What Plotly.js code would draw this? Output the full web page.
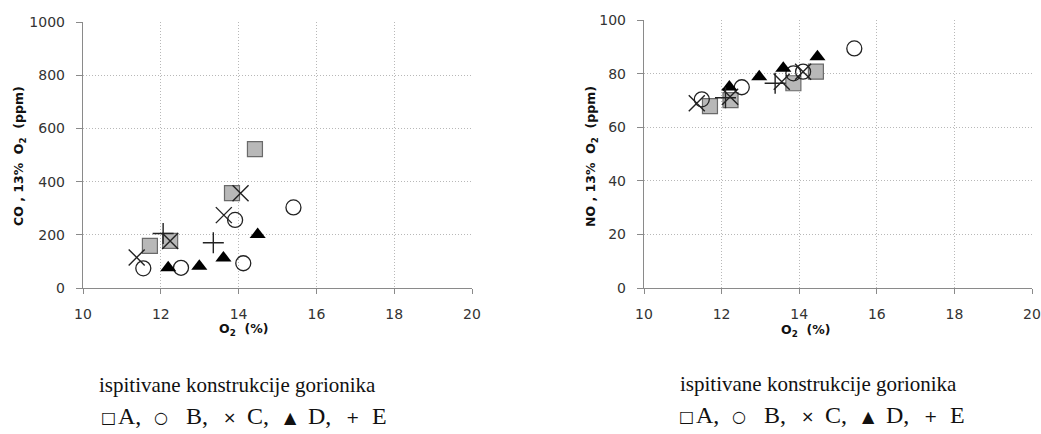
<!DOCTYPE html>
<html>
<head>
<meta charset="utf-8">
<script src="https://cdn.plot.ly/plotly-3.0.1.min.js"></script>
<style>html,body{margin:0;padding:0;background:#fff;}#chart{width:1041px;height:434px;}</style>
</head>
<body>
<div id="chart"></div>
<script>
// ---- Data (O2 %, CO ppm) ----
const coA_x = [11.72, 12.24, 13.83, 14.42];
const coA_y = [158, 177, 357, 522];
const coB_x = [11.55, 12.52, 13.91, 14.12, 15.41];
const coB_y = [74, 76, 256, 93, 303];
const coC_x = [11.38, 12.24, 13.62, 14.05];
const coC_y = [115, 177, 274, 356];
const coD_x = [12.19, 12.99, 13.61, 14.49];
const coD_y = [76, 82, 113, 201];
const coE_x = [12.06, 13.35];
const coE_y = [205, 170];

// ---- Data (O2 %, NO ppm) ----
const noA_x = [11.70, 12.23, 13.85, 14.43];
const noA_y = [67.9, 70.1, 76.4, 80.7];
const noB_x = [11.49, 12.52, 13.85, 14.10, 15.42];
const noB_y = [70.4, 74.9, 80.1, 80.7, 89.4];
const noC_x = [11.36, 12.22, 13.55, 14.10];
const noC_y = [68.9, 71.4, 77.0, 80.7];
const noD_x = [12.20, 12.97, 13.59, 14.47];
const noD_y = [75.0, 78.8, 82.0, 86.3];
const noE_x = [12.10, 13.38];
const noE_y = [71.0, 76.4];

const xTicks = [10, 12, 14, 16, 18, 20];
const coTicks = [0, 200, 400, 600, 800, 1000];
const noTicks = [0, 20, 40, 60, 80, 100];

// legend caption pieces
const captionTitle = 'ispitivane konstrukcije gorionika';
const captionSymbols = ['□', '○', '×', '▲', '+'];
const captionLabels = ['A,', 'B,', 'C,', 'D,', 'E'];

const W = 1041, H = 434;
const px = v => v / W;
const py = v => (H - v) / H;

const styles = {
  A: {symbol: 'square', size: 15, color: '#b8b8b8', line: {color: '#6a6a6a', width: 1.2}},
  B: {symbol: 'circle', size: 15, color: 'rgba(255,255,255,0)', line: {color: '#222', width: 1.3}},
  C: {symbol: 'x-thin-open', size: 16, color: '#222', line: {color: '#222', width: 1.4}},
  D: {symbol: 'triangle-up', size: 14, color: '#000', line: {color: '#000', width: 0}},
  E: {symbol: 'cross-thin-open', size: 15, color: '#222', line: {color: '#222', width: 1.4}}
};

function tr(x, y, key, xa, ya) {
  return {x: x, y: y, type: 'scatter', mode: 'markers', xaxis: xa, yaxis: ya,
          marker: styles[key], showlegend: false, hoverinfo: 'skip'};
}

const data = [
  tr(coA_x, coA_y, 'A', 'x', 'y'),
  tr(coB_x, coB_y, 'B', 'x', 'y'),
  tr(coC_x, coC_y, 'C', 'x', 'y'),
  tr(coD_x, coD_y, 'D', 'x', 'y'),
  tr(coE_x, coE_y, 'E', 'x', 'y'),
  tr(noA_x, noA_y, 'A', 'x2', 'y2'),
  tr(noB_x, noB_y, 'B', 'x2', 'y2'),
  tr(noC_x, noC_y, 'C', 'x2', 'y2'),
  tr(noD_x, noD_y, 'D', 'x2', 'y2'),
  tr(noE_x, noE_y, 'E', 'x2', 'y2')
];

const tickFont = {family: 'DejaVu Sans, sans-serif', size: 14, color: '#333'};
function xax(domain) {
  return {domain: domain, range: [10, 20], tickvals: xTicks, ticktext: xTicks.map(String),
          showgrid: true, gridcolor: '#b8b8b8', griddash: '1px,2px', gridwidth: 1,
          showline: true, linecolor: '#8a8a8a', linewidth: 1.2, zeroline: false,
          ticks: 'outside', ticklen: 5, tickcolor: '#8a8a8a', tickfont: tickFont,
          ticklabelstandoff: 8, fixedrange: true};
}
function yax(domain, anchor, range, ticks) {
  return {domain: domain, anchor: anchor, range: range, tickvals: ticks, ticktext: ticks.map(String),
          showgrid: true, gridcolor: '#b8b8b8', griddash: '1px,2px', gridwidth: 1,
          showline: true, linecolor: '#8a8a8a', linewidth: 1.2, zeroline: false,
          ticks: 'outside', ticklen: 6, tickcolor: '#8a8a8a', tickfont: tickFont,
          ticklabelstandoff: 8, fixedrange: true};
}

const titleFont = {family: 'DejaVu Sans, sans-serif', size: 12.5, color: '#111'};
const serif = {family: 'Liberation Serif, Times New Roman, serif', size: 21, color: '#111'};
const serifBig = {family: 'Liberation Serif, Times New Roman, serif', size: 24, color: '#111'};
const symFont = {family: 'DejaVu Sans, sans-serif', size: 16, color: '#111'};

const annotations = [
  {xref: 'paper', yref: 'paper', x: px(19), y: py(156), text: '<b>CO , 13%  O<sub>2</sub>  (ppm)</b>',
   textangle: -90, showarrow: false, font: titleFont, xanchor: 'center', yanchor: 'middle'},
  {xref: 'paper', yref: 'paper', x: px(591), y: py(157), text: '<b>NO , 13%  O<sub>2</sub>  (ppm)</b>',
   textangle: -90, showarrow: false, font: titleFont, xanchor: 'center', yanchor: 'middle'},
  {xref: 'paper', yref: 'paper', x: px(243), y: py(329), text: '<b>O<sub>2</sub>  (%)</b>',
   showarrow: false, font: titleFont, xanchor: 'center', yanchor: 'middle'},
  {xref: 'paper', yref: 'paper', x: px(805), y: py(330), text: '<b>O<sub>2</sub>  (%)</b>',
   showarrow: false, font: titleFont, xanchor: 'center', yanchor: 'middle'}
];

// caption blocks: left block, right block shifted by 578 px
const symX = [99, 152, 221, 282, 344];
const labX = [116, 184, 245, 306, 370];
[{dx: 0, y1: 385, y2: 416}, {dx: 578, y1: 384, y2: 415}].forEach(b => {
  annotations.push({xref: 'paper', yref: 'paper', x: px(97 + b.dx + (b.dx ? 3 : 0)), y: py(b.y1),
    text: captionTitle, showarrow: false, font: serif, xanchor: 'left', yanchor: 'middle'});
  captionSymbols.forEach((s, i) => {
    annotations.push({xref: 'paper', yref: 'paper', x: px(symX[i] + b.dx), y: py(b.y2 + 1),
      text: s, showarrow: false, font: symFont, xanchor: 'left', yanchor: 'middle'});
    annotations.push({xref: 'paper', yref: 'paper', x: px(labX[i] + b.dx), y: py(b.y2),
      text: captionLabels[i], showarrow: false, font: serifBig, xanchor: 'left', yanchor: 'middle'});
  });
});

const layout = {
  width: W, height: H,
  margin: {l: 0, r: 0, t: 0, b: 0},
  paper_bgcolor: '#fff', plot_bgcolor: '#fff',
  xaxis: Object.assign(xax([px(83), px(472)]), {anchor: 'y'}),
  yaxis: yax([py(288), py(22)], 'x', [0, 1000], coTicks),
  xaxis2: Object.assign(xax([px(644), px(1032)]), {anchor: 'y2'}),
  yaxis2: yax([py(288), py(20)], 'x2', [0, 100], noTicks),
  annotations: annotations
};

Plotly.newPlot('chart', data, layout, {staticPlot: true, displayModeBar: false});
</script>
</body>
</html>
